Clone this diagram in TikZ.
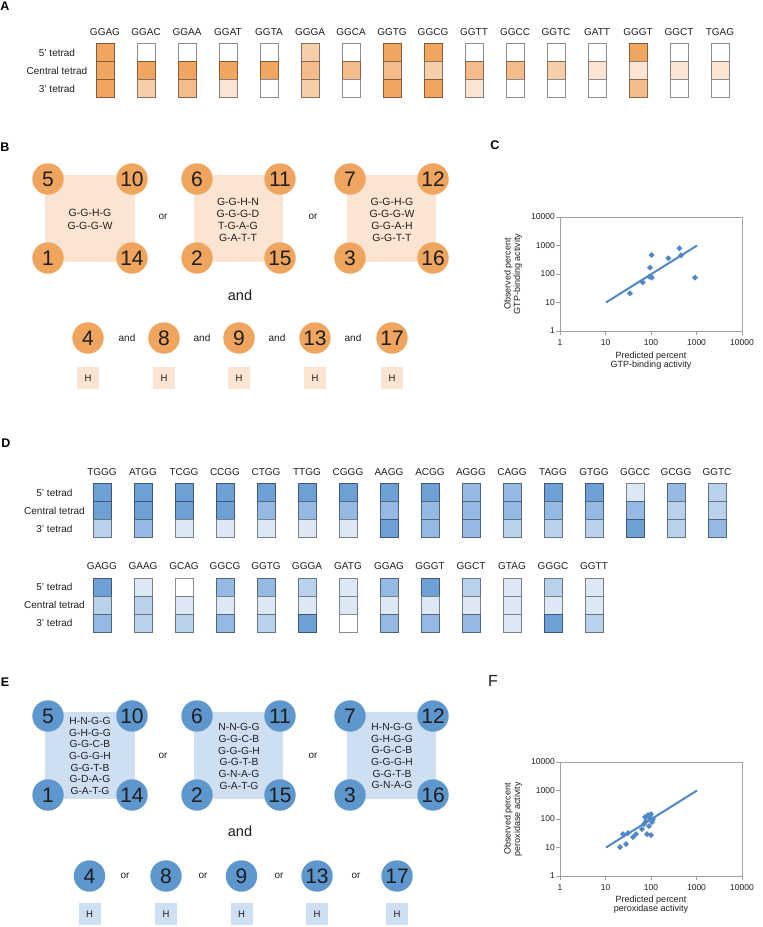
\documentclass[tikz,border=0pt]{standalone}
\usepackage{fontspec}
\setmainfont{Liberation Sans}
\definecolor{o4}{RGB}{240,166,96}
\definecolor{o3}{RGB}{244,188,138}
\definecolor{o2}{RGB}{247,206,170}
\definecolor{o1}{RGB}{250,229,212}
\definecolor{o0}{RGB}{255,255,255}
\definecolor{b4}{RGB}{110,160,214}
\definecolor{b3}{RGB}{148,186,227}
\definecolor{b2}{RGB}{186,209,236}
\definecolor{b1}{RGB}{221,232,245}
\definecolor{b0}{RGB}{255,255,255}
\definecolor{circO}{RGB}{240,165,95}
\definecolor{sqO}{RGB}{251,228,209}
\definecolor{circB}{RGB}{94,150,206}
\definecolor{sqB}{RGB}{206,223,241}
\definecolor{plotc}{RGB}{80,135,198}
\definecolor{axisc}{RGB}{160,160,160}
\definecolor{txt}{RGB}{30,30,30}
\tikzset{
  panel/.style={font=\fontsize{12.5}{12.5}\selectfont\bfseries, text=black, inner sep=0},
  hdr/.style={font=\fontsize{10}{10}\selectfont, text=txt, inner sep=0},
  rowlab/.style={font=\fontsize{10}{10}\selectfont, text=txt, inner sep=0},
  numO/.style={circle, fill=circO, minimum size=31.4pt, inner sep=0, text=txt, font=\fontsize{21}{21}\selectfont},
  numB/.style={circle, fill=circB, minimum size=31.4pt, inner sep=0, text=txt, font=\fontsize{21}{21}\selectfont},
  seq/.style={align=center, text=txt, inner sep=0},
  orlab/.style={font=\fontsize{10}{10}\selectfont, text=txt, inner sep=0},
  bigand/.style={font=\fontsize{14.5}{14.5}\selectfont, text=txt, inner sep=0},
  hboxO/.style={fill=sqO, minimum size=22pt, inner sep=0, text=txt, font=\fontsize{9.5}{9.5}\selectfont},
  hboxB/.style={fill=sqB, minimum size=22pt, inner sep=0, text=txt, font=\fontsize{9.5}{9.5}\selectfont},
  tick/.style={font=\fontsize{8.5}{8.5}\selectfont, text=txt, inner sep=0},
  axtitle/.style={font=\fontsize{9}{9.5}\selectfont, text=txt, align=center, inner sep=0},
  frame/.style={draw=axisc, line width=0.9pt},
  regline/.style={draw=plotc, line width=2pt},
}
\newcommand{\dmd}[2]{\fill[plotc] (#1,#2) +(0,-3) -- +(3,0) -- +(0,3) -- +(-3,0) -- cycle;}
\begin{document}
\begin{tikzpicture}[x=1pt,y=-1pt]
\useasboundingbox (0,0) rectangle (763,927);
\fill[white] (0,0) rectangle (763,927);

% ---------------- Panel A ----------------
\node[panel] (pA) at (5,6) {A};
\node[rowlab] (a5) at (57,52.5) {5’ tetrad};
\node[rowlab] (ac) at (57,70.5) {Central tetrad};
\node[rowlab] (a3) at (57,88.5) {3’ tetrad};
\foreach \i/\h/\p/\q/\r in {0/GGAG/o4/o4/o4,1/GGAC/o0/o4/o2,2/GGAA/o0/o4/o3,3/GGAT/o0/o4/o1,
  4/GGTA/o0/o4/o0,5/GGGA/o2/o3/o2,6/GGCA/o0/o3/o0,7/GGTG/o4/o3/o4,8/GGCG/o4/o2/o4,
  9/GGTT/o0/o3/o1,10/GGCC/o0/o3/o0,11/GGTC/o0/o2/o0,12/GATT/o0/o1/o0,13/GGGT/o4/o1/o3,
  14/GGCT/o0/o1/o0,15/TGAG/o0/o1/o0}{
  \pgfmathsetmacro\cx{105+41*\i}
  \node[hdr] (ha\i) at (\cx,32) {\h};
  \draw[fill=\p, draw=\p!55!black, line width=0.8pt] (\cx-9,43.5) rectangle (\cx+9,61.5);
  \draw[fill=\q, draw=\q!55!black, line width=0.8pt] (\cx-9,61.5) rectangle (\cx+9,79.5);
  \draw[fill=\r, draw=\r!55!black, line width=0.8pt] (\cx-9,79.5) rectangle (\cx+9,97.5);
}

% ---------------- Panel B ----------------
\node[panel] (pB) at (5,147) {B};
\fill[sqO] (45,175) rectangle (135,262);
\fill[sqO] (194,175) rectangle (283,262);
\fill[sqO] (347,175) rectangle (436,262);
\node[numO] (b5) at (48,179) {5};
\node[numO] (b10) at (132,179) {10};
\node[numO] (b1) at (48,258) {1};
\node[numO] (b14) at (132,258) {14};
\node[numO] (b6) at (197,179) {6};
\node[numO] (b11) at (280,179) {11};
\node[numO] (b2) at (197,258) {2};
\node[numO] (b15) at (280,258) {15};
\node[numO] (b7) at (350,179) {7};
\node[numO] (b12) at (433,179) {12};
\node[numO] (b3) at (350,258) {3};
\node[numO] (b16) at (433,258) {16};
\node[seq, font=\fontsize{10.5}{12.8}\selectfont] (bs1) at (90,219.5) {G-G-H-G\\G-G-G-W};
\node[seq, font=\fontsize{10.5}{12}\selectfont] (bs2) at (238,220) {G-G-H-N\\G-G-G-D\\T-G-A-G\\G-A-T-T};
\node[seq, font=\fontsize{10.5}{12}\selectfont] (bs3) at (392,220) {G-G-H-G\\G-G-G-W\\G-G-A-H\\G-G-T-T};
\node[orlab] (bor1) at (163,217) {or};
\node[orlab] (bor2) at (313,217) {or};
\node[bigand] (band) at (240,295) {and};
\foreach \n/\x [count=\k] in {4/88,8/164,9/239,13/315,17/392}{
  \node[numO] (br\n) at (\x,338) {\n};
  \node[hboxO] (bh\n) at (\x,378) {H};
}
\foreach \x [count=\k] in {127,202,277,353}{
  \node[orlab] (bsand\k) at (\x,338) {and};
}

% ---------------- Panel C ----------------
\node[panel] (pC) at (495,145) {C};
\draw[frame] (560,217) rectangle (742,331);
\foreach \v/\t in {0/1,1/10,2/100,3/1000,4/10000}{
  \draw[axisc, line width=0.8pt] (556,331-28.5*\v) -- (560,331-28.5*\v);
  \node[tick, anchor=east] (cy\v) at (555,331-28.5*\v) {\t};
  \draw[axisc, line width=0.8pt] (560+45.5*\v,331) -- (560+45.5*\v,335);
  \node[tick] (cx\v) at (560+45.5*\v,343) {\t};
}
\node[axtitle] (cxt) at (651,360.5) {Predicted percent\\GTP-binding activity};
\node[axtitle, rotate=90] (cyt) at (513,274) {Observed percent\\GTP-binding activity};
\draw[regline] (606,302.5) -- (697,245.5);
\foreach \px/\py in {630/293.3,642.7/282.3,650/267.7,649.3/276.7,651.7/277.7,651.7/255,668.3/258.3,679.3/248.3,681/255.3,695/277.7}{
  \dmd{\px}{\py}
}

% ---------------- Panel D ----------------
\node[panel] (pD) at (6,443) {D};
\node[rowlab] (d5) at (54.5,492.5) {5’ tetrad};
\node[rowlab] (dc) at (54.5,510.5) {Central tetrad};
\node[rowlab] (d3) at (54.5,528.5) {3’ tetrad};
\foreach \i/\h/\p/\q/\r in {0/TGGG/b4/b4/b2,1/ATGG/b4/b4/b3,2/TCGG/b4/b4/b1,3/CCGG/b4/b4/b1,
  4/CTGG/b4/b3/b1,5/TTGG/b4/b3/b1,6/CGGG/b4/b3/b1,7/AAGG/b4/b3/b4,8/ACGG/b4/b3/b3,
  9/AGGG/b3/b3/b3,10/CAGG/b3/b3/b2,11/TAGG/b4/b3/b2,12/GTGG/b4/b3/b2,13/GGCC/b1/b3/b4,
  14/GCGG/b3/b2/b2,15/GGTC/b2/b2/b3}{
  \pgfmathsetmacro\cx{102+41*\i}
  \node[hdr] (hd\i) at (\cx,472) {\h};
  \draw[fill=\p, draw=\p!55!black, line width=0.8pt] (\cx-9,483.5) rectangle (\cx+9,501.5);
  \draw[fill=\q, draw=\q!55!black, line width=0.8pt] (\cx-9,501.5) rectangle (\cx+9,519.5);
  \draw[fill=\r, draw=\r!55!black, line width=0.8pt] (\cx-9,519.5) rectangle (\cx+9,537.5);
}
\node[rowlab] (e5) at (54.5,587) {5’ tetrad};
\node[rowlab] (ec) at (54.5,605) {Central tetrad};
\node[rowlab] (e3) at (54.5,623) {3' tetrad};
\foreach \i/\h/\p/\q/\r in {0/GAGG/b4/b2/b3,1/GAAG/b1/b2/b2,2/GCAG/b0/b1/b2,3/GGCG/b3/b1/b3,
  4/GGTG/b3/b1/b2,5/GGGA/b2/b1/b4,6/GATG/b1/b1/b0,7/GGAG/b3/b1/b3,8/GGGT/b4/b1/b3,
  9/GGCT/b2/b1/b3,10/GTAG/b1/b1/b1,11/GGGC/b2/b1/b4,12/GGTT/b1/b1/b2}{
  \pgfmathsetmacro\cx{102+41*\i}
  \node[hdr] (he\i) at (\cx,566.5) {\h};
  \draw[fill=\p, draw=\p!55!black, line width=0.8pt] (\cx-9,578) rectangle (\cx+9,596);
  \draw[fill=\q, draw=\q!55!black, line width=0.8pt] (\cx-9,596) rectangle (\cx+9,614);
  \draw[fill=\r, draw=\r!55!black, line width=0.8pt] (\cx-9,614) rectangle (\cx+9,632);
}

% ---------------- Panel E ----------------
\node[panel] (pE) at (5,682) {E};
\fill[sqB] (45,712) rectangle (135,799);
\fill[sqB] (194,712) rectangle (283,799);
\fill[sqB] (347,712) rectangle (436,799);
\node[numB] (e5c) at (48,716) {5};
\node[numB] (e10c) at (132,716) {10};
\node[numB] (e1c) at (48,795) {1};
\node[numB] (e14c) at (132,795) {14};
\node[numB] (e6c) at (197,716) {6};
\node[numB] (e11c) at (280,716) {11};
\node[numB] (e2c) at (197,795) {2};
\node[numB] (e15c) at (280,795) {15};
\node[numB] (e7c) at (350,716) {7};
\node[numB] (e12c) at (433,716) {12};
\node[numB] (e3c) at (350,795) {3};
\node[numB] (e16c) at (433,795) {16};
\node[seq, font=\fontsize{10.3}{11.7}\selectfont] (es1) at (90,756) {H-N-G-G\\G-H-G-G\\G-G-C-B\\G-G-G-H\\G-G-T-B\\G-D-A-G\\G-A-T-G};
\node[seq, font=\fontsize{10.3}{11.7}\selectfont] (es2) at (239,756.5) {N-N-G-G\\G-G-C-B\\G-G-G-H\\G-G-T-B\\G-N-A-G\\G-A-T-G};
\node[seq, font=\fontsize{10.3}{11.7}\selectfont] (es3) at (392,756) {H-N-G-G\\G-H-G-G\\G-G-C-B\\G-G-G-H\\G-G-T-B\\G-N-A-G};
\node[orlab] (eor1) at (163,756) {or};
\node[orlab] (eor2) at (313,756) {or};
\node[bigand] (eand) at (240,831) {and};
\foreach \n/\x in {4/89.5,8/166,9/241.5,13/317,17/397}{
  \node[numB] (er\n) at (\x,876) {\n};
  \node[hboxB] (eh\n) at (\x,914) {H};
}
\foreach \x [count=\k] in {125,203,279,356}{
  \node[orlab] (esor\k) at (\x,876) {or};
}

% ---------------- Panel F ----------------
\node[font=\fontsize{16}{16}\selectfont, text=txt, inner sep=0] (pF) at (493,681) {F};
\draw[frame] (560,762) rectangle (742,876);
\foreach \v/\t in {0/1,1/10,2/100,3/1000,4/10000}{
  \draw[axisc, line width=0.8pt] (556,876-28.5*\v) -- (560,876-28.5*\v);
  \node[tick, anchor=east] (fy\v) at (555,876-28.5*\v) {\t};
  \draw[axisc, line width=0.8pt] (560+45.5*\v,876) -- (560+45.5*\v,880);
  \node[tick] (fx\v) at (560+45.5*\v,887.5) {\t};
}
\node[axtitle] (fxt) at (651,904.5) {Predicted percent\\peroxidase activity};
\node[axtitle, rotate=90] (fyt) at (513,819) {Observed percent\\peroxidase activity};
\draw[regline] (606,847.5) -- (697,790.5);
\foreach \px/\py in {620/847,626/844,623/834,628/833,633/837,636/834,642/829,644/824,645/817,648/815,650/818,652/822,649/826,646/821,651/814,647/834,651/835,653/819}{
  \dmd{\px}{\py}
}
\end{tikzpicture}
\end{document}
